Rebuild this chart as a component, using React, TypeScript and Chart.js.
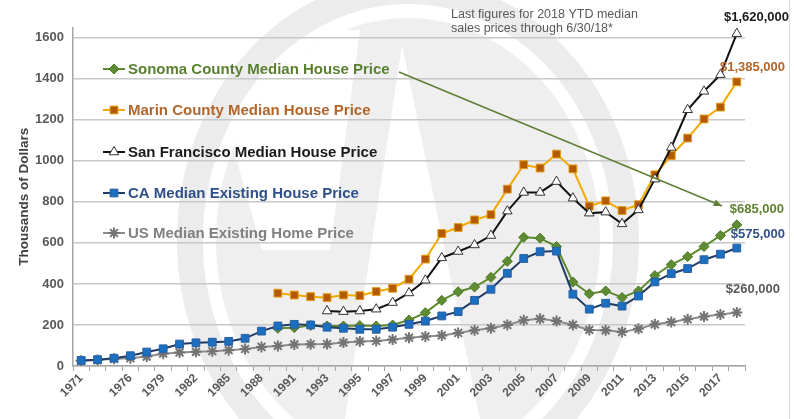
import React, { useEffect, useRef } from 'react';
import { Chart, registerables } from 'chart.js';

Chart.register(...registerables);

const years = [
  '1971', '1973', '1975', '1976', '1978', '1979', '1981', '1982', '1984', '1985', '1987', '1988',
  '1990', '1991', '1992', '1993', '1994', '1995', '1996', '1997', '1998', '1999', '2000', '2001',
  '2002', '2003', '2004', '2005', '2006', '2007', '2008', '2009', '2010', '2011', '2012', '2013',
  '2014', '2015', '2016', '2017', '2018',
];

const N = null;
const sonoma = [N, N, N, N, N, N, N, N, N, N, N, N,
  184, 187, 198, 195, 195, 197, 195, 200, 224, 260, 320, 362, 385, 432, 510, 627, 623, 582, 409, 352,
  366, 334, 366, 441, 494, 533, 582, 636, 688];
const marin = [N, N, N, N, N, N, N, N, N, N, N, N,
  355, 346, 338, 333, 346, 343, 363, 379, 423, 521, 646, 675, 712, 738, 862, 981, 965, 1033, 961, 779,
  805, 758, 786, 932, 1026, 1111, 1204, 1262, 1385];
const sanFrancisco = [N, N, N, N, N, N, N, N, N, N, N, N, N, N, N,
  268, 265, 268, 277, 309, 356, 418, 527, 558, 590, 636, 755, 846, 846, 899, 818, 745, 750, 693, 761,
  911, 1065, 1249, 1339, 1420, 1620];
const california = [27, 31, 38, 50, 68, 84, 107, 113, 116, 120, 135, 170,
  195, 203, 200, 189, 184, 179, 179, 189, 203, 219, 244, 265, 320, 374, 452, 524, 557, 560, 350, 277,
  306, 292, 341, 410, 450, 475, 518, 545, 575];
const unitedStates = [25, 29, 35, 38, 46, 60, 66, 69, 72, 77, 83, 93,
  98, 105, 106, 107, 114, 120, 122, 129, 138, 144, 149, 161, 174, 184, 200, 223, 230, 219, 200, 176,
  174, 166, 181, 203, 214, 228, 241, 251, 261];

const yTickValues = [0, 200, 400, 600, 800, 1000, 1200, 1400, 1600];

const seriesNames = [
  'Sonoma County Median House Price',
  'Marin County Median House Price',
  'San Francisco Median House Price',
  'CA Median Existing House Price',
  'US Median Existing Home Price',
];
const legendTextColors = ['#5a7f30', '#b2652a', '#1a1a1a', '#2f5088', '#808080'];

const endLabels = ['$1,620,000', '$1,385,000', '$685,000', '$575,000', '$260,000'];
const noteLines = ['Last figures for 2018 YTD median', 'sales prices through 6/30/18*'];
const yTitle = 'Thousands of Dollars';

const FONT = '"Liberation Sans", Arial, sans-serif';

function drawMarker(ctx: CanvasRenderingContext2D, style: string, x: number, y: number, r: number, fill: string, stroke: string, lw: number) {
  ctx.save();
  ctx.fillStyle = fill;
  ctx.strokeStyle = stroke;
  ctx.lineWidth = lw;
  ctx.beginPath();
  if (style === 'rect') {
    const s = r * Math.SQRT1_2;
    ctx.rect(x - s, y - s, 2 * s, 2 * s);
    ctx.fill();
    ctx.stroke();
  } else if (style === 'rectRot') {
    ctx.moveTo(x, y - r);
    ctx.lineTo(x + r, y);
    ctx.lineTo(x, y + r);
    ctx.lineTo(x - r, y);
    ctx.closePath();
    ctx.fill();
    ctx.stroke();
  } else if (style === 'triangle') {
    ctx.moveTo(x, y - r);
    ctx.lineTo(x + r * 0.87, y + r * 0.5);
    ctx.lineTo(x - r * 0.87, y + r * 0.5);
    ctx.closePath();
    ctx.fill();
    ctx.stroke();
  } else if (style === 'star') {
    for (let k = 0; k < 4; k++) {
      const a = (k * Math.PI) / 4;
      ctx.moveTo(x - Math.cos(a) * r, y - Math.sin(a) * r);
      ctx.lineTo(x + Math.cos(a) * r, y + Math.sin(a) * r);
    }
    ctx.stroke();
  }
  ctx.restore();
}

const watermarkPlugin = {
  id: 'watermark',
  beforeDraw(chart: any) {
    const ctx: CanvasRenderingContext2D = chart.ctx;
    ctx.save();
    ctx.fillStyle = '#ffffff';
    ctx.fillRect(0, 0, chart.width, chart.height);
    ctx.fillStyle = '#ececec';
    ctx.beginPath();
    ctx.ellipse(408, 240, 231, 262, 0, 0, Math.PI * 2);
    ctx.ellipse(408, 240, 205, 236, 0, 0, Math.PI * 2);
    ctx.fill('evenodd');
    ctx.beginPath();
    ctx.ellipse(408, 240, 192, 222, 0, 0, Math.PI * 2);
    ctx.clip();
    ctx.fillStyle = '#efefef';
    ctx.fillRect(0, 0, chart.width, chart.height);
    ctx.fillStyle = '#ffffff';
    ctx.beginPath();
    ctx.moveTo(402, 45);
    ctx.lineTo(480, 419);
    ctx.lineTo(345, 419);
    ctx.closePath();
    ctx.fill();
    ctx.beginPath();
    ctx.moveTo(200, 30);
    ctx.lineTo(360, 30);
    ctx.lineTo(330, 250);
    ctx.lineTo(262, 250);
    ctx.closePath();
    ctx.fill();
    ctx.restore();
    ctx.save();
    ctx.strokeStyle = '#dcdcdc';
    ctx.lineWidth = 1;
    ctx.beginPath();
    ctx.moveTo(789.5, 0);
    ctx.lineTo(789.5, chart.height);
    ctx.stroke();
    ctx.restore();
  },
};

const annotationPlugin = {
  id: 'annotations',
  afterDatasetsDraw(chart: any) {
    const ctx: CanvasRenderingContext2D = chart.ctx;
    ctx.save();
    const ys = [69, 110, 152, 193, 233];
    chart.data.datasets.forEach((ds: any, i: number) => {
      const y = ys[i];
      ctx.strokeStyle = ds.borderColor;
      ctx.lineWidth = 2;
      ctx.beginPath();
      ctx.moveTo(103, y);
      ctx.lineTo(125, y);
      ctx.stroke();
      drawMarker(ctx, ds.pointStyle, 114, y, ds.pointRadius, ds.pointBackgroundColor, ds.pointBorderColor, ds.pointBorderWidth);
      ctx.fillStyle = legendTextColors[i];
      ctx.font = `bold 15px ${FONT}`;
      ctx.textAlign = 'left';
      ctx.textBaseline = 'middle';
      ctx.fillText(seriesNames[i], 128, y + 1);
    });
    const x1 = 399, y1 = 72, x2 = 722, y2 = 206;
    ctx.strokeStyle = '#5f7f36';
    ctx.fillStyle = '#5f7f36';
    ctx.lineWidth = 1.5;
    ctx.beginPath();
    ctx.moveTo(x1, y1);
    ctx.lineTo(x2, y2);
    ctx.stroke();
    const ang = Math.atan2(y2 - y1, x2 - x1);
    ctx.beginPath();
    ctx.moveTo(x2, y2);
    ctx.lineTo(x2 - 9 * Math.cos(ang - 0.4), y2 - 9 * Math.sin(ang - 0.4));
    ctx.lineTo(x2 - 9 * Math.cos(ang + 0.4), y2 - 9 * Math.sin(ang + 0.4));
    ctx.closePath();
    ctx.fill();
    ctx.fillStyle = '#595959';
    ctx.font = `12.5px ${FONT}`;
    ctx.textAlign = 'left';
    ctx.textBaseline = 'middle';
    ctx.fillText(noteLines[0], 451, 15);
    ctx.fillText(noteLines[1], 451, 29);
    const lab = [
      { t: endLabels[0], x: 789, y: 17, c: '#1a1a1a' },
      { t: endLabels[1], x: 785, y: 67, c: '#b2652a' },
      { t: endLabels[2], x: 784, y: 209, c: '#5f8232' },
      { t: endLabels[3], x: 785, y: 234, c: '#2f5088' },
      { t: endLabels[4], x: 780, y: 289, c: '#595959' },
    ];
    ctx.font = `bold 13px ${FONT}`;
    ctx.textAlign = 'right';
    lab.forEach((l) => {
      ctx.fillStyle = l.c;
      ctx.fillText(l.t, l.x, l.y);
    });
    ctx.restore();
  },
};

export default function App() {
  const ref = useRef<HTMLCanvasElement>(null);
  useEffect(() => {
    document.body.style.margin = '0';
    if (!ref.current) return;
    const chart = new Chart(ref.current, {
      type: 'line',
      data: {
        labels: years,
        datasets: [
          {
            label: seriesNames[0], data: sonoma, order: 3,
            borderColor: '#5e8b31', borderWidth: 2,
            pointStyle: 'rectRot', pointRadius: 5, pointBackgroundColor: '#5f8c32', pointBorderColor: '#4e7a26', pointBorderWidth: 1,
          },
          {
            label: seriesNames[1], data: marin, order: 2,
            borderColor: '#f2a900', borderWidth: 2,
            pointStyle: 'rect', pointRadius: 5.5, pointBackgroundColor: '#b35a00', pointBorderColor: '#e39a10', pointBorderWidth: 1,
          },
          {
            label: seriesNames[2], data: sanFrancisco, order: 1,
            borderColor: '#111111', borderWidth: 2,
            pointStyle: 'triangle', pointRadius: 5.5, pointBackgroundColor: '#ffffff', pointBorderColor: '#333333', pointBorderWidth: 1,
          },
          {
            label: seriesNames[3], data: california, order: 0,
            borderColor: '#1f3c66', borderWidth: 2,
            pointStyle: 'rect', pointRadius: 5.5, pointBackgroundColor: '#1a6fc0', pointBorderColor: '#2a5fa0', pointBorderWidth: 1,
          },
          {
            label: seriesNames[4], data: unitedStates, order: 4,
            borderColor: '#8c8c8c', borderWidth: 2,
            pointStyle: 'star', pointRadius: 5.5, pointBackgroundColor: '#808080', pointBorderColor: '#737373', pointBorderWidth: 2,
          },
        ],
      },
      options: {
        responsive: false,
        animation: false,
        events: [],
        layout: { padding: { top: 27.5, right: 49, left: 0, bottom: 0 } },
        font: { family: FONT },
        plugins: { legend: { display: false }, tooltip: { enabled: false } },
        scales: {
          x: {
            type: 'category',
            offset: true,
            grid: { display: true, drawOnChartArea: false, drawTicks: true, tickLength: 5, color: '#a6a6a6', offset: true },
            border: { display: true, color: '#a6a6a6', width: 1.5 },
            ticks: {
              autoSkip: false, minRotation: 45, maxRotation: 45, padding: 0,
              color: '#595959', font: { family: FONT, size: 12, weight: 'bold' },
              callback: function (this: any, v: any, i: number) {
                return i === 0 || (i >= 3 && i % 2 === 1) ? this.getLabelForValue(v) : '';
              },
            },
            afterFit: (s: any) => { s.height = 53; },
          },
          y: {
            min: 0, max: 1650,
            ticks: {
              padding: 9, color: '#595959', font: { family: FONT, size: 13, weight: 'bold' },
              callback: (v: any) => String(v),
            },
            grid: { color: '#c8c8c8', lineWidth: 1.5, drawTicks: false },
            border: { display: true, color: '#a6a6a6', width: 1.5 },
            title: { display: true, text: yTitle, color: '#404040', font: { family: FONT, size: 13.5, weight: 'bold' }, padding: { top: 16, bottom: 0 } },
            afterFit: (s: any) => { s.width = 73; },
            afterBuildTicks: (s: any) => { s.ticks = yTickValues.map((v) => ({ value: v })); },
          },
        },
      },
      plugins: [watermarkPlugin, annotationPlugin],
    } as any);
    return () => chart.destroy();
  }, []);
  return (
    <div style={{ width: 794, height: 419 }}>
      <canvas ref={ref} width={794} height={419} />
    </div>
  );
}
